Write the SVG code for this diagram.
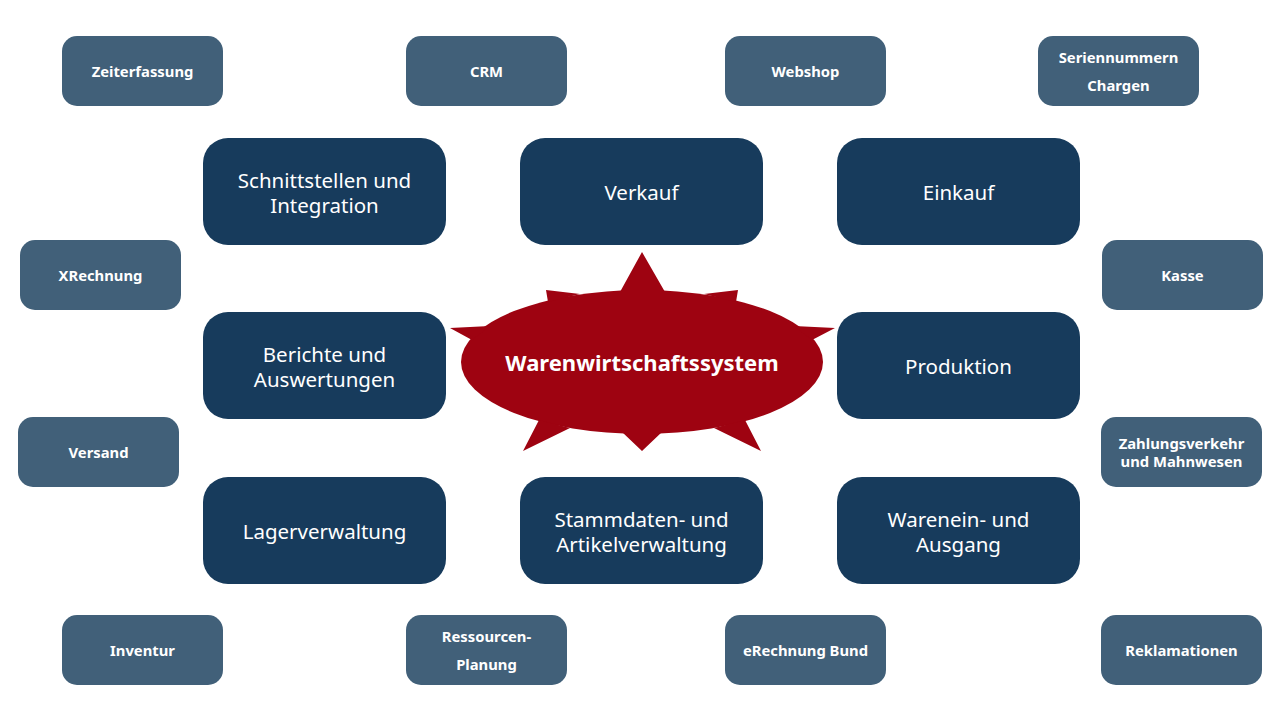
<svg xmlns="http://www.w3.org/2000/svg" width="1280" height="720" viewBox="0 0 1280 720">
<style>
.big rect{fill:#173b5c}
.sm rect{fill:#416079}
.bt{font-family:"Noto Sans","Open Sans",sans-serif;font-size:20.5px;fill:#ffffff;text-anchor:middle;dominant-baseline:central}
.st{font-family:"Noto Sans","Open Sans",sans-serif;font-size:14.8px;font-weight:bold;fill:#ffffff;text-anchor:middle;dominant-baseline:central}
.ct{font-family:"Noto Sans","Open Sans",sans-serif;font-size:22px;font-weight:bold;fill:#ffffff;text-anchor:middle;dominant-baseline:central}
</style>
<rect width="1280" height="720" fill="#ffffff"/>
<g id="connectors"></g>
<g id="center">
<ellipse cx="642" cy="362" rx="181" ry="72" fill="#9e0311"/>
<path fill="#9e0311" d="M620,292 L642,252 L665,292 Z M548,302 L546,290 L580,294 Z M736,302 L738,290 L704,294 Z M472,340 L450,328 L490,326 Z M812,340 L835,328 L794,326 Z M539,420 L523,451 L570,428 Z M745,420 L761,451 L714,428 Z M622,432 L642,451 L662,432 Z"/>
<text class="ct" x="642" y="362">Warenwirtschaftssystem</text>
</g>
<g id="schnittstellen" class="big"><rect x="203" y="138" width="243" height="107" rx="25"/><text class="bt"><tspan x="324.5" y="180">Schnittstellen und</tspan><tspan x="324.5" y="205">Integration</tspan></text></g>
<g id="verkauf" class="big"><rect x="520" y="138" width="243" height="107" rx="25"/><text class="bt" x="641.5" y="192">Verkauf</text></g>
<g id="einkauf" class="big"><rect x="837" y="138" width="243" height="107" rx="25"/><text class="bt" x="958.5" y="192">Einkauf</text></g>
<g id="berichte" class="big"><rect x="203" y="312" width="243" height="107" rx="25"/><text class="bt"><tspan x="324.5" y="354">Berichte und</tspan><tspan x="324.5" y="379">Auswertungen</tspan></text></g>
<g id="produktion" class="big"><rect x="837" y="312" width="243" height="107" rx="25"/><text class="bt" x="958.5" y="366">Produktion</text></g>
<g id="lager" class="big"><rect x="203" y="477" width="243" height="107" rx="25"/><text class="bt" x="324.5" y="531">Lagerverwaltung</text></g>
<g id="stammdaten" class="big"><rect x="520" y="477" width="243" height="107" rx="25"/><text class="bt"><tspan x="641.5" y="519">Stammdaten- und</tspan><tspan x="641.5" y="544">Artikelverwaltung</tspan></text></g>
<g id="warenein" class="big"><rect x="837" y="477" width="243" height="107" rx="25"/><text class="bt"><tspan x="958.5" y="519">Warenein- und</tspan><tspan x="958.5" y="544">Ausgang</tspan></text></g>
<g id="zeiterfassung" class="sm"><rect x="62" y="36" width="161" height="70" rx="15"/><text class="st" x="142.5" y="71">Zeiterfassung</text></g>
<g id="crm" class="sm"><rect x="406" y="36" width="161" height="70" rx="15"/><text class="st" x="486.5" y="71">CRM</text></g>
<g id="webshop" class="sm"><rect x="725" y="36" width="161" height="70" rx="15"/><text class="st" x="805.5" y="71">Webshop</text></g>
<g id="seriennummern" class="sm"><rect x="1038" y="36" width="161" height="70" rx="15"/><text class="st"><tspan x="1118.5" y="57">Seriennummern</tspan><tspan x="1118.5" y="85">Chargen</tspan></text></g>
<g id="xrechnung" class="sm"><rect x="20" y="240" width="161" height="70" rx="15"/><text class="st" x="100.5" y="275">XRechnung</text></g>
<g id="kasse" class="sm"><rect x="1102" y="240" width="161" height="70" rx="15"/><text class="st" x="1182.5" y="275">Kasse</text></g>
<g id="versand" class="sm"><rect x="18" y="417" width="161" height="70" rx="15"/><text class="st" x="98.5" y="452">Versand</text></g>
<g id="zahlung" class="sm"><rect x="1101" y="417" width="161" height="70" rx="15"/><text class="st"><tspan x="1181.5" y="443">Zahlungsverkehr</tspan><tspan x="1181.5" y="461">und Mahnwesen</tspan></text></g>
<g id="inventur" class="sm"><rect x="62" y="615" width="161" height="70" rx="15"/><text class="st" x="142.5" y="650">Inventur</text></g>
<g id="ressourcen" class="sm"><rect x="406" y="615" width="161" height="70" rx="15"/><text class="st"><tspan x="486.5" y="636">Ressourcen-</tspan><tspan x="486.5" y="664">Planung</tspan></text></g>
<g id="erechnung" class="sm"><rect x="725" y="615" width="161" height="70" rx="15"/><text class="st" x="805.5" y="650">eRechnung Bund</text></g>
<g id="reklamationen" class="sm"><rect x="1101" y="615" width="161" height="70" rx="15"/><text class="st" x="1181.5" y="650">Reklamationen</text></g>
</svg>
